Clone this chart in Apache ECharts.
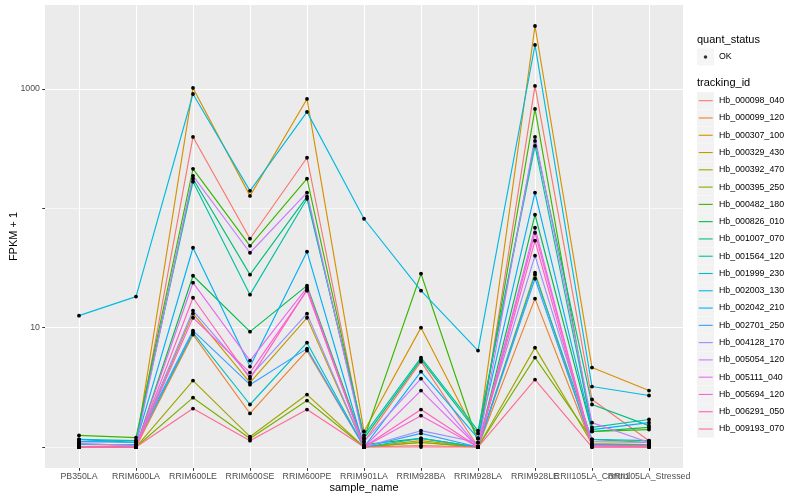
<!DOCTYPE html>
<html>
<head>
<meta charset="utf-8">
<script src="https://cdn.jsdelivr.net/npm/echarts@6/dist/echarts.min.js"></script>
<style>html,body{margin:0;padding:0;background:#fff}#c{width:800px;height:500px}</style>
</head>
<body>
<div id="c"></div>
<script>
// ---- data ----
const categories = ['PB350LA','RRIM600LA','RRIM600LE','RRIM600SE','RRIM600PE','RRIM901LA','RRIM928BA','RRIM928LA','RRIM928LE','RRII105LA_Control','RRII105LA_Stressed'];
const trackingIds = ['Hb_000098_040','Hb_000099_120','Hb_000307_100','Hb_000329_430','Hb_000392_470','Hb_000395_250','Hb_000482_180','Hb_000826_010','Hb_001007_070','Hb_001564_120','Hb_001999_230','Hb_002003_130','Hb_002042_210','Hb_002701_250','Hb_004128_170','Hb_005054_120','Hb_005111_040','Hb_005694_120','Hb_006291_050','Hb_009193_070'];
const colors = ['#F8766D','#EA8331','#D89000','#C09B00','#A3A500','#7CAE00','#39B600','#00BB4E','#00BF7D','#00C1A3','#00BFC4','#00BAE0','#00B0F6','#35A2FF','#9590FF','#C77CFF','#E76BF3','#FA62DB','#FF62BC','#FF6C91'];

// FPKM + 1 per sample, in category order
const hb_000098_040 = [1.01, 1.01, 396, 55.6, 265, 1.11, 5.19, 1.01, 1059, 2.50, 1.13];
const hb_000099_120 = [1.01, 1.0, 8.74, 1.91, 6.42, 1.0, 1.03, 1.0, 17.5, 1.03, 1.03];
const hb_000307_100 = [1.01, 1.03, 1019, 127, 824, 1.35, 10.0, 1.18, 3365, 4.63, 2.97];
const hb_000329_430 = [1.0, 1.0, 13.1, 3.47, 12.1, 1.0, 1.13, 1.0, 28.9, 1.03, 1.01];
const hb_000392_470 = [1.0, 1.0, 3.60, 1.22, 2.75, 1.0, 1.09, 1.0, 6.80, 1.07, 1.05];
const hb_000395_250 = [1.0, 1.0, 2.59, 1.18, 2.45, 1.0, 1.09, 1.0, 5.61, 1.16, 1.09];
const hb_000482_180 = [1.25, 1.20, 214, 48.5, 177, 1.18, 28.3, 1.09, 680, 1.35, 1.40];
const hb_000826_010 = [1.0, 1.0, 27.2, 9.26, 22.5, 1.05, 1.18, 1.0, 88.3, 1.35, 1.46];
const hb_001007_070 = [1.11, 1.13, 177, 27.8, 125, 1.18, 5.40, 1.30, 367, 2.27, 1.51];
const hb_001564_120 = [1.16, 1.13, 167, 18.9, 120, 1.25, 5.61, 1.37, 333, 1.46, 1.70];
const hb_001999_230 = [1.05, 1.05, 9.08, 2.27, 7.48, 1.0, 1.18, 1.0, 27.8, 1.16, 1.13];
const hb_002003_130 = [12.6, 18.2, 907, 140, 642, 81.7, 20.4, 6.42, 2335, 3.21, 2.70];
const hb_002042_210 = [1.16, 1.09, 46.7, 4.72, 43.3, 1.0, 4.28, 1.18, 135, 1.40, 1.60];
const hb_002701_250 = [1.11, 1.09, 9.44, 3.33, 6.67, 1.0, 1.30, 1.0, 25.7, 1.05, 1.05];
const hb_004128_170 = [1.07, 1.03, 13.9, 3.89, 13.1, 1.0, 1.37, 1.09, 40.1, 1.11, 1.09];
const hb_005054_120 = [1.07, 1.03, 187, 42.4, 135, 1.11, 3.74, 1.0, 396, 1.60, 1.09];
const hb_005111_040 = [1.0, 1.0, 23.8, 5.30, 21.6, 1.0, 2.97, 1.0, 68.7, 1.0, 1.0];
const hb_005694_120 = [1.0, 1.0, 12.1, 4.20, 20.4, 1.0, 1.83, 1.0, 62.4, 1.03, 1.0];
const hb_006291_050 = [1.0, 1.0, 17.8, 3.74, 20.8, 1.0, 2.06, 1.0, 53.5, 1.0, 1.0];
const hb_009193_070 = [1.0, 1.0, 2.10, 1.13, 2.06, 1.0, 1.0, 1.0, 3.67, 1.0, 1.0];

const seriesValues = [hb_000098_040, hb_000099_120, hb_000307_100, hb_000329_430, hb_000392_470,
  hb_000395_250, hb_000482_180, hb_000826_010, hb_001007_070, hb_001564_120, hb_001999_230,
  hb_002003_130, hb_002042_210, hb_002701_250, hb_004128_170, hb_005054_120, hb_005111_040,
  hb_005694_120, hb_006291_050, hb_009193_070];

const yTickValues = [10, 1000];
const yTickLabels = ['10', '1000'];
const yMin = 0.667, yMax = 5047;

// ---- chart ----
const FONT = 'Liberation Sans, Arial, Helvetica, sans-serif';
const chart = echarts.init(document.getElementById('c'), null, {renderer: 'canvas'});

const lineIcon = 'path://M0,0M17,17M1.7,7.95H15.7V9.05H1.7Z';
const dotIcon = 'path://M0,0M17,17M8.5,6.7L9.77,7.23L10.3,8.5L9.77,9.77L8.5,10.3L7.23,9.77L6.7,8.5L7.23,7.23Z';

const series = trackingIds.map((id, i) => ({
  name: id,
  type: 'line',
  xAxisIndex: 0,
  yAxisIndex: 0,
  data: seriesValues[i],
  symbol: 'circle',
  symbolSize: 3.8,
  showAllSymbol: true,
  itemStyle: {color: '#000000'},
  lineStyle: {color: colors[i], width: 1.15},
  emphasis: {disabled: true},
  animation: false
}));
series.push({name: 'OK', type: 'scatter', xAxisIndex: 0, yAxisIndex: 0, data: [], animation: false});

const legendBase = {
  orient: 'vertical', left: 697, itemWidth: 17, itemHeight: 17, padding: 0,
  selectedMode: false, itemTextGap: 2.7
};

chart.setOption({
  backgroundColor: '#ffffff',
  animation: false,
  textStyle: {fontFamily: FONT},
  title: [
    {text: 'quant_status', left: 697, top: 34, padding: 0, textStyle: {fontSize: 11, fontWeight: 'normal', color: '#000', fontFamily: FONT}},
    {text: 'tracking_id', left: 697, top: 77.5, padding: 0, textStyle: {fontSize: 11, fontWeight: 'normal', color: '#000', fontFamily: FONT}}
  ],
  grid: [
    {left: 79, right: 151, top: 5, bottom: 32, containLabel: false, outerBoundsMode: 'none'},
    {left: 45, right: 117, top: 5, bottom: 32, show: true, backgroundColor: '#EBEBEB', borderWidth: 0, containLabel: false, outerBoundsMode: 'none'}
  ],
  xAxis: [
    {
      type: 'category', gridIndex: 0, data: categories, boundaryGap: false,
      axisLine: {show: false},
      axisTick: {show: true, length: 2.75, lineStyle: {color: '#333333', width: 1}},
      axisLabel: {interval: 0, color: '#4D4D4D', fontSize: 8.8, margin: 4.5, fontFamily: FONT, hideOverlap: false},
      splitLine: {show: true, lineStyle: {color: '#ffffff', width: 1.1}},
      name: 'sample_name', nameLocation: 'middle', nameGap: 14, nameMoveOverlap: false,
      nameTextStyle: {fontSize: 11, color: '#000', fontFamily: FONT}
    },
    {type: 'value', gridIndex: 1, show: false, min: 0, max: 1}
  ],
  yAxis: [
    {type: 'log', logBase: 10, gridIndex: 0, min: yMin, max: yMax, show: false,
     axisLine: {show: false}, axisTick: {show: false}, axisLabel: {show: false}, splitLine: {show: false}},
    {
      type: 'log', logBase: 10, gridIndex: 1, min: yMin, max: yMax, position: 'left',
      axisLine: {show: false},
      axisTick: {show: true, length: 2.75, lineStyle: {color: '#333333', width: 1}},
      axisLabel: {
        color: '#4D4D4D', fontSize: 8.8, margin: 5, fontFamily: FONT,
        showMinLabel: false, showMaxLabel: false,
        formatter: v => { const k = yTickValues.indexOf(Math.round(v)); return k >= 0 ? yTickLabels[k] : ''; }
      },
      splitLine: {show: true, showMinLine: false, showMaxLine: false, lineStyle: {color: ['#F7F7F7', '#ffffff'], width: 1.1}},
      name: 'FPKM + 1', nameLocation: 'middle', nameGap: 26, nameRotate: 90, nameMoveOverlap: false,
      nameTextStyle: {fontSize: 11, color: '#000', fontFamily: FONT}
    },
    {
      type: 'log', logBase: 10, gridIndex: 1, min: yMin, max: yMax, position: 'right',
      axisLine: {show: false}, axisTick: {show: false}, axisLabel: {show: false},
      splitLine: {show: false}
    }
  ],
  legend: [
    Object.assign({}, legendBase, {
      top: 48.5, itemGap: 0,
      data: [{name: 'OK', icon: 'rect', itemStyle: {color: '#F2F2F2', borderWidth: 0}}],
      textStyle: {color: 'rgba(0,0,0,0)', fontSize: 8.8, fontFamily: FONT}
    }),
    Object.assign({}, legendBase, {
      top: 48.5, itemGap: 0,
      data: [{name: 'OK', icon: dotIcon, itemStyle: {color: '#000000', borderWidth: 0}}],
      textStyle: {color: '#000', fontSize: 8.8, fontFamily: FONT}
    }),
    Object.assign({}, legendBase, {
      top: 92.2, itemGap: 0.28,
      data: trackingIds.map(id => ({name: id, icon: 'rect', itemStyle: {color: '#F2F2F2', borderWidth: 0}})),
      textStyle: {color: 'rgba(0,0,0,0)', fontSize: 8.8, fontFamily: FONT}
    }),
    Object.assign({}, legendBase, {
      top: 92.2, itemGap: 0.28,
      data: trackingIds.map((id, i) => ({name: id, icon: lineIcon, itemStyle: {color: colors[i], borderWidth: 0, opacity: 1}})),
      textStyle: {color: '#000', fontSize: 8.8, fontFamily: FONT}
    })
  ],
  series: series
});
</script>
</body>
</html>
